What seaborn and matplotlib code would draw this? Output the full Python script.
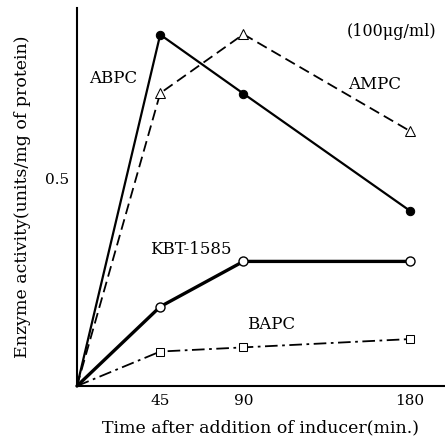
import matplotlib
matplotlib.use("Agg")
import matplotlib.pyplot as plt
import seaborn as sns
import pandas as pd

time = [0, 45, 90, 180]
abpc = [0.0, 0.846, 0.704, 0.422]
ampc = [0.0, 0.705, 0.847, 0.614]
kbt = [0.0, 0.191, 0.300, 0.300]
bapc = [0.0, 0.083, 0.093, 0.113]
xticks = [45, 90, 180]
yticks = [0.5]

sns.set_style("white")
plt.rcParams['font.family'] = ['DejaVu Serif', 'Liberation Serif']
plt.rcParams['text.color'] = 'black'
plt.rcParams['axes.labelcolor'] = 'black'

fig = plt.figure(figsize=(4.45, 4.41), dpi=100)
ax = fig.add_axes([0.173, 0.1247, 0.827, 0.857])

series = [
    ("ABPC", abpc, dict(linestyle='-', marker='o', mfc='black', mec='black', lw=1.6, ms=6)),
    ("AMPC", ampc, dict(linestyle=(0, (6, 3)), marker='^', mfc='white', mec='black', lw=1.3, ms=7)),
    ("KBT-1585", kbt, dict(linestyle='-', marker='o', mfc='white', mec='black', lw=2.4, ms=6.5, mew=1.0)),
    ("BAPC", bapc, dict(linestyle=(0, (7, 2.5, 1.5, 2.5)), marker='s', mfc='white', mec='black', lw=1.3, ms=6)),
]
for name, vals, kw in series:
    df = pd.DataFrame({"t": time, "v": vals})
    sns.lineplot(data=df, x="t", y="v", ax=ax, color='black', clip_on=False, zorder=3,
                 markevery=[1, 2, 3], **kw)

ax.set_xlim(0, 199)
ax.set_ylim(0, 0.91)
ax.set_xticks(xticks)
ax.set_xticklabels([str(x) for x in xticks])
ax.set_yticks(yticks)
ax.set_yticklabels(["0.5"])
ax.tick_params(direction='in', length=8, width=1.2, labelsize=11, colors='black', pad=6)
for s in ['top', 'right']:
    ax.spines[s].set_visible(False)
for s in ['left', 'bottom']:
    ax.spines[s].set_linewidth(1.5)
    ax.spines[s].set_color('black')

ax.set_xlabel("Time after addition of inducer(min.)", fontsize=12.5, labelpad=8, color='black')
ax.set_ylabel("Enzyme activity(units/mg of protein)", fontsize=12.5, labelpad=10, color='black')

ax.text(19.5, 0.74, "ABPC", fontsize=12, ha='center', va='center', color='black')
ax.text(161, 0.725, "AMPC", fontsize=12, ha='center', va='center', color='black')
ax.text(61.6, 0.328, "KBT-1585", fontsize=12, ha='center', va='center', color='black')
ax.text(105, 0.147, "BAPC", fontsize=12, ha='center', va='center', color='black')
ax.text(170, 0.853, "(100μg/ml)", fontsize=11.5, ha='center', va='center', color='black')

fig.savefig("out.png", dpi=100)
